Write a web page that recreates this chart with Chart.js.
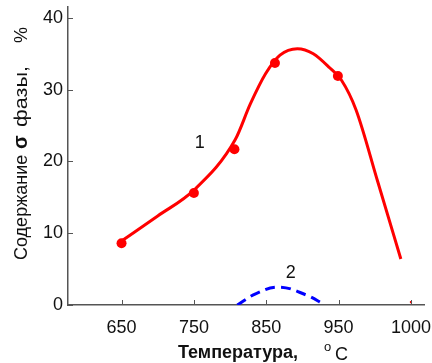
<!DOCTYPE html>
<html>
<head>
<meta charset="utf-8">
<script src="https://cdn.jsdelivr.net/npm/chart.js@4.4.1/dist/chart.umd.min.js"></script>
<style>
  html, body { margin: 0; padding: 0; background: #fff; }
  #wrap { width: 432px; height: 363px; }
</style>
</head>
<body>
<div id="wrap"><canvas id="chart" width="432" height="363"></canvas></div>
<script>
// --- data ---
// curve 1 (red, smooth line through the measurements)
const curve1Temp = [650, 700, 750, 807, 828, 849, 869, 893, 915, 938, 952, 962, 977, 993];
const curve1Val  = [8.9, 12.4, 16.0, 23.0, 28.0, 32.2, 34.8, 35.7, 35.0, 33.0, 31.3, 27.2, 17.2, 6.4];
// measured points on curve 1
const pointTemp = [650, 750, 806, 862, 949];
const pointVal  = [8.6, 15.6, 21.7, 33.7, 31.9];
// stray mark at 1000 on the axis
const strayTemp = [1000];
const strayVal  = [0.4];
// curve 2 (blue dashed)
const curve2Temp = [810, 836, 868, 905, 931];
const curve2Val  = [0, 1.6, 2.5, 1.4, 0];
// tick labels
const xTickTemps = [650, 750, 850, 950, 1000];
const yTicks = [0, 10, 20, 30, 40];

const axisColor = '#555555';
const textColor = '#111111';
const fontFamily = '"Liberation Sans", Arial, sans-serif';

// the original axis is not linear: 950 -> 1000 takes the same room as 100 degrees
function toAxis(t) {
    return t <= 950 ? t : 950 + (t - 950) * 2;
}
const xTicks = xTickTemps.map(toAxis);

function pairs(xs, ys) {
    return xs.map((t, i) => ({ x: toAxis(t), y: ys[i] }));
}

const overlay = {
    id: 'overlay',
    afterDraw(chart) {
        const { ctx, chartArea, scales } = chart;
        const x = scales.x, y = scales.y;
        ctx.save();

        // inward tick marks
        ctx.strokeStyle = axisColor;
        ctx.lineWidth = 1;
        ctx.beginPath();
        xTicks.forEach(v => {
            const px = Math.round(x.getPixelForValue(v)) + 0.5;
            ctx.moveTo(px, chartArea.bottom);
            ctx.lineTo(px, chartArea.bottom - 5);
        });
        yTicks.forEach(v => {
            const py = Math.round(y.getPixelForValue(v)) + 0.5;
            ctx.moveTo(chartArea.left, py);
            ctx.lineTo(chartArea.left + 5, py);
        });
        ctx.stroke();

        // curve numbers
        ctx.fillStyle = textColor;
        ctx.font = '18px ' + fontFamily;
        ctx.textAlign = 'center';
        ctx.textBaseline = 'middle';
        ctx.fillText('1', x.getPixelForValue(758), y.getPixelForValue(22.6));
        ctx.fillText('2', x.getPixelForValue(884), y.getPixelForValue(4.5));

        // x title
        ctx.textBaseline = 'alphabetic';
        ctx.textAlign = 'left';
        ctx.font = 'bold 18px ' + fontFamily;
        ctx.fillText('Температура,', 178, 358);
        ctx.font = '13px ' + fontFamily;
        ctx.fillText('o', 324, 351);
        ctx.font = '18px ' + fontFamily;
        ctx.fillText('C', 335, 360);

        // y title (rotated), pieces placed along the axis
        ctx.translate(27, 260);
        ctx.rotate(-Math.PI / 2);
        ctx.font = '18px ' + fontFamily;
        ctx.fillText('Содержание', 0, 0);
        ctx.font = 'bold 20px ' + fontFamily;
        ctx.fillText('σ', 111, 0);
        ctx.font = '18px ' + fontFamily;
        ctx.fillText('%', 217, 0);
        // "фазы," is drawn a bit wider, as in the original
        ctx.translate(133, 0);
        ctx.scale(1.2, 1);
        ctx.fillText('фазы,', 0, 0);
        ctx.restore();
    }
};

new Chart(document.getElementById('chart'), {
    type: 'line',
    data: {
        datasets: [
            {
                data: pairs(curve1Temp, curve1Val),
                borderColor: '#ff0000',
                borderWidth: 3,
                pointRadius: 0,
                cubicInterpolationMode: 'monotone',
                fill: false
            },
            {
                data: pairs(pointTemp, pointVal),
                showLine: false,
                pointRadius: 5,
                pointBackgroundColor: '#ff0000',
                pointBorderColor: '#ff0000',
                pointBorderWidth: 0
            },
            {
                data: pairs(strayTemp, strayVal),
                showLine: false,
                pointStyle: 'rect',
                pointRadius: 1.5,
                pointBackgroundColor: '#ff0000',
                pointBorderColor: '#ff0000',
                pointBorderWidth: 0
            },
            {
                data: pairs(curve2Temp, curve2Val),
                borderColor: '#0000ff',
                borderWidth: 3,
                borderDash: [10, 6],
                pointRadius: 0,
                tension: 0.4,
                fill: false
            }
        ]
    },
    options: {
        responsive: false,
        animation: false,
        devicePixelRatio: 1,
        layout: { padding: { top: 7, right: 8, left: 0, bottom: 0 } },
        plugins: {
            legend: { display: false },
            tooltip: { enabled: false }
        },
        scales: {
            x: {
                type: 'linear',
                min: 576,
                max: 1068,
                afterBuildTicks: s => { s.ticks = xTicks.map(v => ({ value: v })); },
                afterFit: s => { s.height = 58; s.paddingLeft = 0; s.paddingRight = 0; },
                grid: { drawOnChartArea: false, drawTicks: false },
                border: { color: axisColor, width: 1.5 },
                ticks: {
                    padding: 12,
                    color: textColor,
                    font: { family: fontFamily, size: 18 },
                    callback: v => String(xTickTemps[xTicks.indexOf(v)])
                }
            },
            y: {
                min: 0,
                max: 41.5,
                afterBuildTicks: s => { s.ticks = yTicks.map(v => ({ value: v })); },
                afterFit: s => { s.width = 68; s.paddingTop = 0; s.paddingBottom = 0; },
                grid: { drawOnChartArea: false, drawTicks: false },
                border: { color: axisColor, width: 1.5 },
                ticks: {
                    padding: 5,
                    color: textColor,
                    font: { family: fontFamily, size: 18 }
                }
            }
        }
    },
    plugins: [overlay]
});
</script>
</body>
</html>
